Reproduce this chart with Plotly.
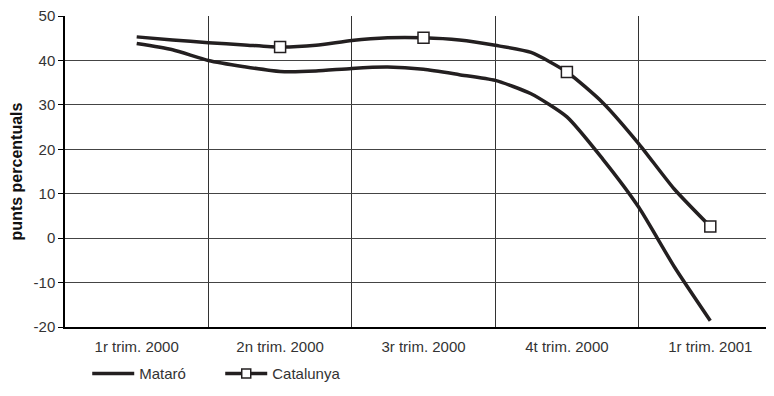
import plotly.graph_objects as go

# quarter labels on the x axis
quarters = ["1r trim. 2000", "2n trim. 2000", "3r trim. 2000", "4t trim. 2000", "1r trim. 2001"]

# y ticks, written with a plain hyphen like the original
y_ticks = [-20, -10, 0, 10, 20, 30, 40, 50]
y_tick_text = ["-20", "-10", "0", "10", "20", "30", "40", "50"]

# readings every quarter of a quarter (x in quarter units)
steps = [i / 4 for i in range(17)]

mataro = [43.8, 42.4, 40.0, 38.6, 37.5, 37.6, 38.2, 38.5, 38.0,
          36.8, 35.5, 32.5, 27.3, 17.8, 7.0, -6.5, -18.6]
catalunya = [45.3, 44.6, 44.0, 43.5, 43.0, 43.4, 44.5, 45.1, 45.1,
             44.6, 43.4, 41.8, 37.4, 30.5, 21.3, 11.0, 2.6]

# Catalunya only has markers on the quarters 2n trim. 2000 .. 1r trim. 2001
mark_x = [s for s in steps if s == int(s) and s >= 1]
mark_y = [catalunya[steps.index(s)] for s in mark_x]

ink = "#231f20"
font = "Liberation Sans, Arial, sans-serif"
line_style = dict(color=ink, width=3.5, shape="spline", smoothing=0.6)

fig = go.Figure()

fig.add_trace(go.Scatter(x=steps, y=mataro, mode="lines", name="Mataró",
                         line=line_style))
fig.add_trace(go.Scatter(x=steps, y=catalunya, mode="lines", name="Catalunya",
                         line=line_style, showlegend=False, legendgroup="cat"))
fig.add_trace(go.Scatter(x=mark_x, y=mark_y, mode="markers", name="Catalunya",
                         marker=dict(symbol="square", size=11, color="white",
                                     line=dict(color=ink, width=1.5)),
                         showlegend=False, legendgroup="cat"))
# legend entry: line with a square
fig.add_trace(go.Scatter(x=[None], y=[None], mode="lines+markers", name="Catalunya",
                         line=dict(color=ink, width=3.5),
                         marker=dict(symbol="square", size=9, color="white",
                                     line=dict(color=ink, width=1.5)),
                         legendgroup="cat"))

# the page adds an 8px body margin, so margins are 8px smaller than the target
fig.update_layout(
    width=774, height=396,
    margin=dict(l=57, r=0, t=8, b=77),
    paper_bgcolor="white", plot_bgcolor="white",
    font=dict(family=font, size=15, color="#333"),
    showlegend=True,
    legend=dict(orientation="h", x=0.031, xanchor="left", y=-0.15, yanchor="middle",
                font=dict(size=15, color="#333"), itemwidth=42, entrywidth=76,
                bgcolor="rgba(0,0,0,0)"),
    xaxis=dict(range=[-0.5, 4.5], tickvals=list(range(len(quarters))), ticktext=quarters,
               showgrid=False, zeroline=False, ticks="",
               showline=True, linecolor="black", linewidth=2,
               tickfont=dict(size=15, color="#333"), ticklabelstandoff=5,
               minor=dict(tickvals=[0.5, 1.5, 2.5, 3.5], showgrid=True,
                          gridcolor="#333", gridwidth=1, ticks="")),
    yaxis=dict(range=[-20, 50], tickvals=y_ticks, ticktext=y_tick_text,
               showgrid=True, gridcolor="#444", gridwidth=1,
               zeroline=False, showline=True, linecolor="black", linewidth=1.5,
               ticks="outside", ticklen=5, tickcolor="black",
               ticklabeloverflow="allow", automargin=False,
               tickfont=dict(size=15, color="#333"),
               title=dict(text="<b>punts percentuals</b>", font=dict(size=16, color="#111"),
                          standoff=10)),
)

fig.write_html("out.html")
